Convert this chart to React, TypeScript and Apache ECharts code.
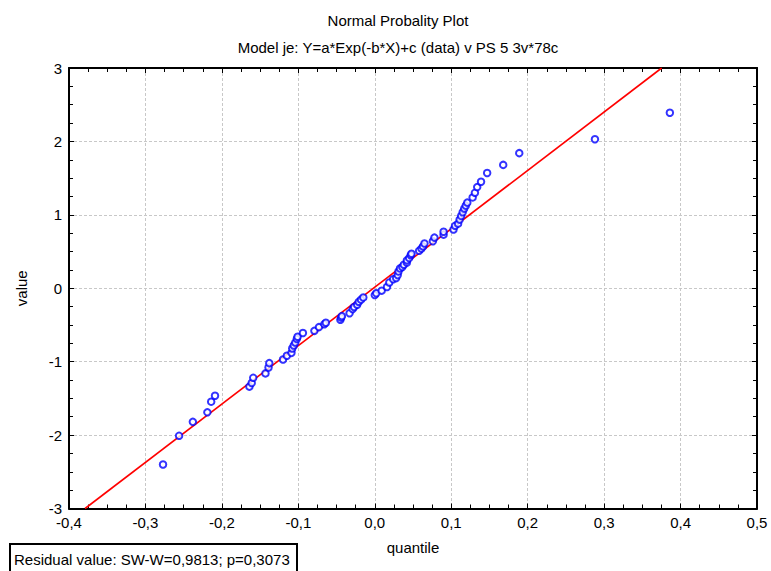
import React, { useEffect, useRef } from "react";
import * as echarts from "echarts";

const titleText = "Normal Probality Plot";
const subtitleText = "Model je: Y=a*Exp(-b*X)+c (data) v PS 5 3v*78c";
const xAxisName = "quantile";
const yAxisName = "value";
const noteText = "Residual value: SW-W=0,9813; p=0,3073";

const residuals: number[] = [
  -0.277, -0.256, -0.238, -0.219, -0.214, -0.209, -0.164, -0.161, -0.159, -0.143,
  -0.139, -0.138, -0.12, -0.115, -0.109, -0.108, -0.106, -0.104, -0.102, -0.101,
  -0.094, -0.079, -0.073, -0.066, -0.064, -0.045, -0.044, -0.043, -0.033, -0.029,
  -0.027, -0.023, -0.021, -0.018, -0.015, 0.0, 0.002, 0.009, 0.016, 0.019,
  0.024, 0.028, 0.03, 0.031, 0.033, 0.036, 0.038, 0.042, 0.042, 0.045,
  0.047, 0.048, 0.058, 0.061, 0.063, 0.065, 0.076, 0.078, 0.09, 0.09,
  0.103, 0.105, 0.109, 0.111, 0.113, 0.115, 0.117, 0.119, 0.121, 0.128,
  0.131, 0.134, 0.139, 0.147, 0.168, 0.189, 0.288, 0.386,
];
const expectedValues: number[] = [
  -2.4, -2.01, -1.82, -1.69, -1.545, -1.465, -1.34, -1.29, -1.22, -1.16,
  -1.08, -1.02, -0.97, -0.92, -0.88, -0.82, -0.78, -0.74, -0.69, -0.66,
  -0.61, -0.58, -0.53, -0.49, -0.47, -0.43, -0.4, -0.38, -0.34, -0.285,
  -0.255, -0.225, -0.185, -0.155, -0.125, -0.093, -0.068, -0.033, 0.017, 0.078,
  0.123, 0.138, 0.179, 0.229, 0.27, 0.29, 0.32, 0.35, 0.38, 0.41,
  0.45, 0.47, 0.51, 0.54, 0.57, 0.61, 0.64, 0.69, 0.73, 0.77,
  0.8, 0.85, 0.88, 0.935, 0.985, 1.035, 1.085, 1.125, 1.166, 1.237,
  1.3, 1.378, 1.45, 1.57, 1.68, 1.84, 2.03, 2.39,
];
const fitLineX: number[] = [-0.379, 0.3753];
const fitLineY: number[] = [-3, 3];

const FONT = "'Liberation Sans', Arial, sans-serif";
const FS = 15;

export default function App() {
  const ref = useRef<HTMLDivElement>(null);
  useEffect(() => {
    document.body.style.margin = "0";
    if (!ref.current) return;
    const chart = echarts.init(ref.current, undefined, { renderer: "svg" });
    const fmtX = (v: number) => v.toFixed(1).replace(".", ",");
    const axisCommon = {
      axisLine: { show: true, onZero: false, lineStyle: { color: "#000", width: 2 } },
      axisTick: { show: true, inside: true, length: 5, lineStyle: { color: "#000", width: 1 } },
      minorTick: { show: true, splitNumber: 4, length: 4, lineStyle: { color: "#000", width: 1 } },
    };
    chart.setOption({
      animation: false,
      backgroundColor: "#fff",
      textStyle: { fontFamily: FONT },
      title: [
        {
          text: titleText,
          left: 393,
          top: 8,
          textAlign: "center",
          textStyle: { fontSize: FS, fontWeight: "normal", color: "#000", fontFamily: FONT },
        },
        {
          text: subtitleText,
          left: 393,
          top: 35,
          textAlign: "center",
          textStyle: { fontSize: FS, fontWeight: "normal", color: "#000", fontFamily: FONT },
        },
      ],
      grid: { left: 69, right: 14, top: 68, bottom: 62.5, containLabel: false },
      xAxis: [
        {
          type: "value",
          min: -0.4,
          max: 0.5,
          interval: 0.1,
          position: "bottom",
          name: xAxisName,
          nameLocation: "middle",
          nameGap: 31,
          nameTextStyle: { fontSize: FS, color: "#000", fontFamily: FONT },
          ...axisCommon,
          axisLabel: { color: "#000", fontSize: FS, margin: 6, formatter: fmtX, fontFamily: FONT },
          splitLine: { show: true, lineStyle: { color: "#c8c8c8", type: [3, 2], width: 1 } },
        },
        {
          type: "value",
          min: -0.4,
          max: 0.5,
          interval: 0.1,
          position: "top",
          ...axisCommon,
          axisLabel: { show: false },
          splitLine: { show: false },
        },
      ],
      yAxis: [
        {
          type: "value",
          min: -3,
          max: 3,
          interval: 1,
          position: "left",
          name: yAxisName,
          nameLocation: "middle",
          nameGap: 40,
          nameTextStyle: { fontSize: FS, color: "#000", fontFamily: FONT },
          ...axisCommon,
          axisLabel: { color: "#000", fontSize: FS, margin: 7, fontFamily: FONT },
          splitLine: { show: true, lineStyle: { color: "#c8c8c8", type: [3, 2], width: 1 } },
        },
        {
          type: "value",
          min: -3,
          max: 3,
          interval: 1,
          position: "right",
          ...axisCommon,
          axisLabel: { show: false },
          splitLine: { show: false },
        },
      ],
      series: [
        {
          type: "line",
          data: fitLineX.map((x, i) => [x, fitLineY[i]]),
          showSymbol: false,
          symbol: "none",
          lineStyle: { color: "#ff0000", width: 1.6 },
          z: 2,
          silent: true,
        },
        {
          type: "scatter",
          data: residuals.map((x, i) => [x, expectedValues[i]]),
          symbol: "emptyCircle",
          symbolSize: 6.5,
          itemStyle: { color: "#0000ff", borderColor: "#0000ff", borderWidth: 1.7 },
          z: 3,
        },
      ],
      graphic: [
        {
          type: "rect",
          shape: { x: 10, y: 544, width: 287, height: 40 },
          style: { fill: "#fff", stroke: "#000", lineWidth: 2 },
          z: 10,
        },
        {
          type: "text",
          x: 14,
          y: 559,
          style: {
            text: noteText,
            fontSize: FS,
            fill: "#000",
            fontFamily: FONT,
            verticalAlign: "middle",
            align: "left",
          },
          z: 11,
        },
      ],
    });
    return () => chart.dispose();
  }, []);
  return <div ref={ref} style={{ width: 771, height: 571 }} />;
}
